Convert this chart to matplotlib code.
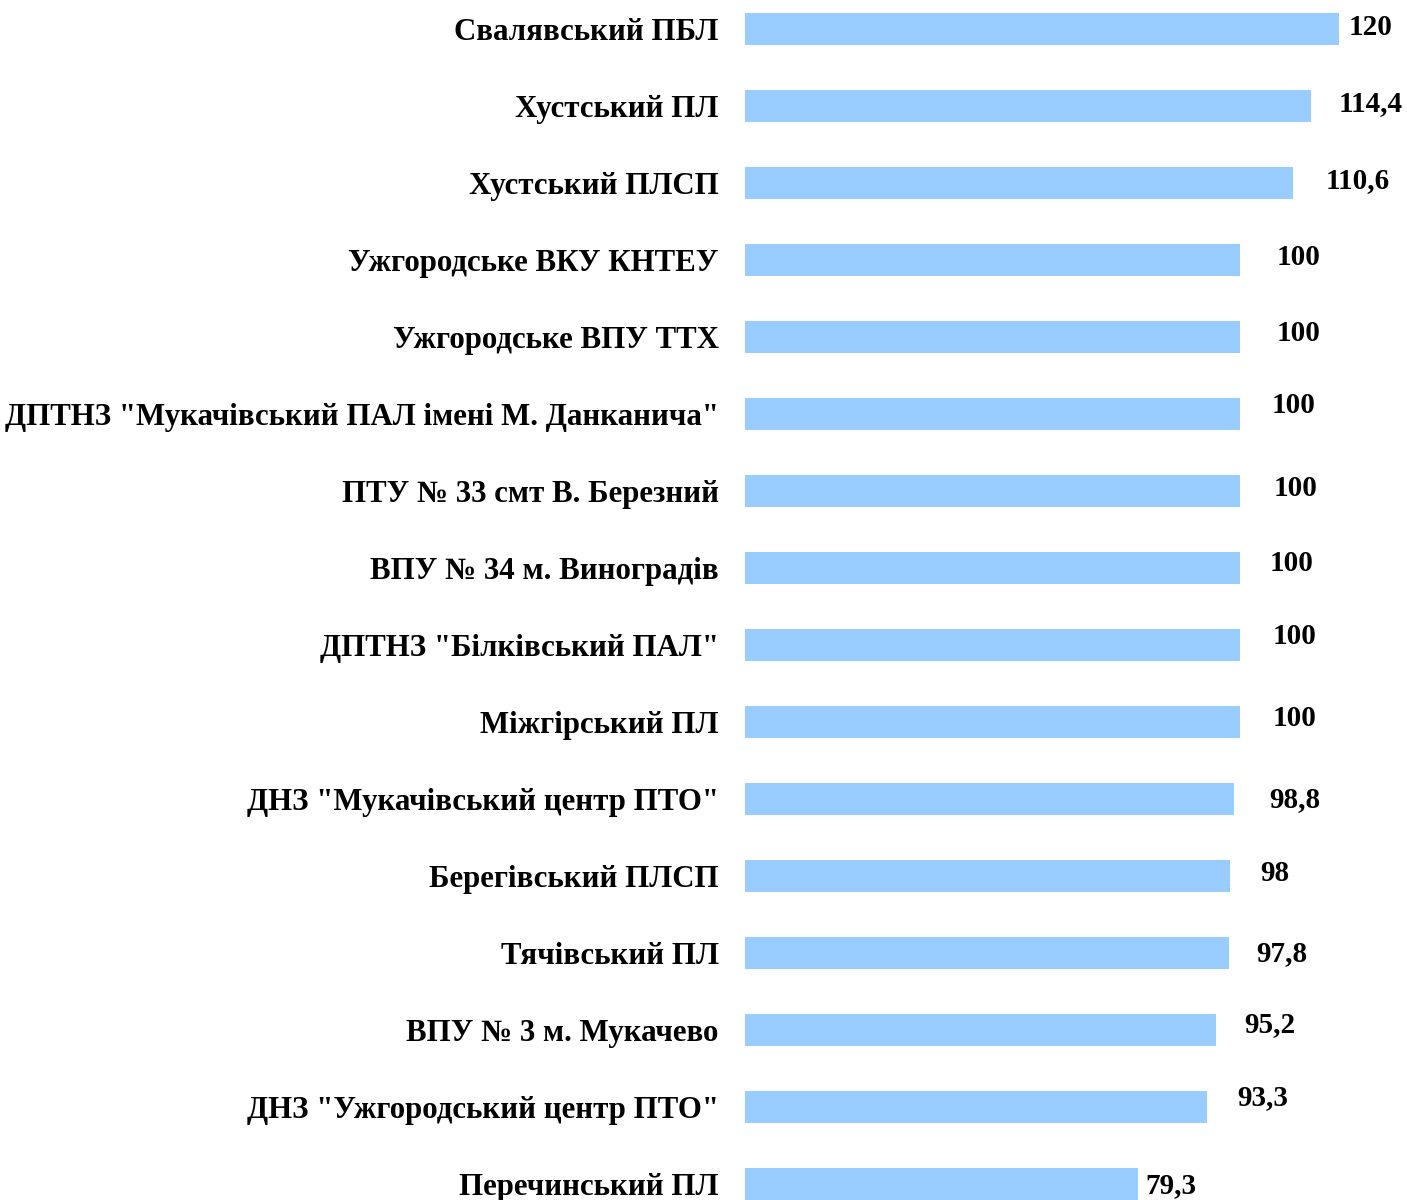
import matplotlib
matplotlib.use('Agg')
import matplotlib.pyplot as plt

plt.rcParams['font.family'] = ['Liberation Serif', 'DejaVu Serif']

# ── дані ──────────────────────────────────────────────────────────────
schools = [
    'Свалявський ПБЛ',
    'Хустський ПЛ',
    'Хустський ПЛСП',
    'Ужгородське ВКУ КНТЕУ',
    'Ужгородське ВПУ ТТХ',
    'ДПТНЗ "Мукачівський ПАЛ імені М. Данканича"',
    'ПТУ № 33 смт В. Березний',
    'ВПУ № 34 м. Виноградів',
    'ДПТНЗ "Білківський ПАЛ"',
    'Міжгірський ПЛ',
    'ДНЗ "Мукачівський центр ПТО"',
    'Берегівський ПЛСП',
    'Тячівський ПЛ',
    'ВПУ № 3 м. Мукачево',
    'ДНЗ "Ужгородський центр ПТО"',
    'Перечинський ПЛ',
]
values = [120, 114.4, 110.6, 100, 100, 100, 100, 100, 100, 100,
          98.8, 98, 97.8, 95.2, 93.3, 79.3]
value_labels = ['120', '114,4', '110,6', '100', '100', '100', '100', '100',
                '100', '100', '98,8', '98', '97,8', '95,2', '93,3', '79,3']

# ручні зсуви підписів (пікселі), як у вихідному файлі Excel
LABEL_DX = [9, 27, 33, 36, 36, 31, 33, 29, 32, 32, 35, 30, 27, 28, 30, 8]
LABEL_DY = [2, 2, 2, 2, 3, 8, 2, 4, 8, 3, -1, 2, -1, 5, 9, -2]

C_BAR = '#99CCFF'

fig = plt.figure(figsize=(14.07, 12.0), dpi=100)
ax = fig.add_axes([745 / 1407, 0, 662 / 1407, 1])

pos = list(range(len(values)))
ax.barh(pos, values, height=0.41, color=C_BAR, edgecolor='none')
ax.set_xlim(0, 133.7)
ax.set_ylim(15.21, -0.377)

for i, (v, lab) in enumerate(zip(values, value_labels)):
    ax.annotate(lab, xy=(v, i), xytext=(LABEL_DX[i], LABEL_DY[i]),
                textcoords='offset pixels', ha='left', va='center',
                fontsize=21, fontweight='bold', color='black',
                annotation_clip=False)

ax.set_yticks(pos)
ax.set_yticklabels(schools, fontsize=22.2, fontweight='bold')
ax.tick_params(axis='y', length=0, pad=19)
ax.set_xticks([])
for s in ax.spines.values():
    s.set_visible(False)

fig.savefig('out.png', dpi=100, facecolor='white')
